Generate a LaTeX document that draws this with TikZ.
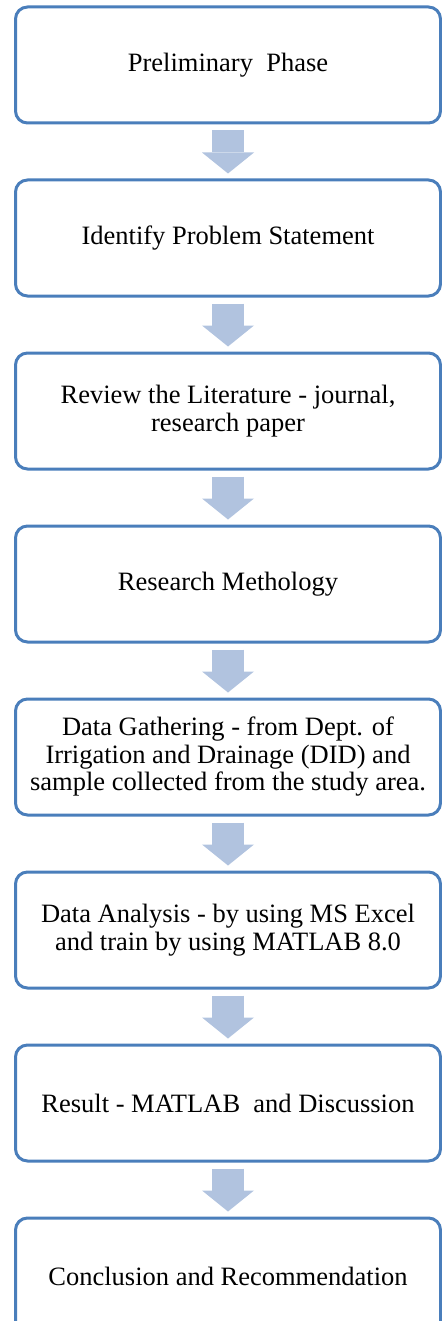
\documentclass[tikz,border=0pt]{standalone}
\usepackage{fontspec}
\setmainfont{Liberation Serif}
\usetikzlibrary{arrows.meta,positioning}
\definecolor{StepEdge}{HTML}{4A7EBB}
\definecolor{StepArrow}{HTML}{B1C3DF}

\begin{document}
\begin{tikzpicture}[x=0.5pt,y=0.5pt,
    stepbox/.style={rounded corners=6pt,draw=StepEdge,line width=1.5pt,fill=white,
      minimum width=212.5pt,minimum height=58pt,align=center,
      font=\fontsize{13.25}{13.75}\selectfont,text=black},
    flow/.style={draw=StepArrow,line width=16pt,shorten <=3pt,shorten >=2.5pt,
      -{Triangle[width=26pt,length=10.5pt,line width=0pt]}},
    node distance=27pt]
        \useasboundingbox (0,0) rectangle (442,-1321);
        \node[stepbox] (phase) at (228,-65) {Preliminary~ Phase};
        \node[stepbox,below=of phase] (problem) {Identify Problem Statement};
        \node[stepbox,below=of problem] (review)
              {Review the Literature - journal,\\ research paper};
        \node[stepbox,below=of review] (method) {Research Methology};
        \node[stepbox,below=of method] (gather)
              {Data Gathering - from Dept. of\\ Irrigation and Drainage (DID) and\\
               sample collected from the study area.};
        \node[stepbox,below=of gather] (analysis)
              {Data Analysis - by using MS Excel\\ and train by using MATLAB 8.0};
        \node[stepbox,below=of analysis] (result) {Result - MATLAB~ and Discussion};
        \node[stepbox,below=of result] (concl) {Conclusion and Recommendation};
        \foreach \a/\b in {phase/problem,problem/review,review/method,method/gather,
                           gather/analysis,analysis/result,result/concl}{
          \draw[flow] (\a) -- (\b);
        }
      \end{tikzpicture}
\end{document}
